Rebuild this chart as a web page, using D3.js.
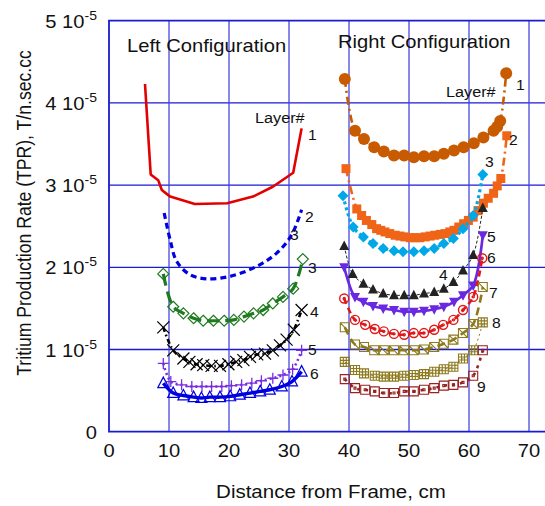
<!DOCTYPE html>
<html lang="en">
<head>
<meta charset="utf-8">
<title>TPR</title>
<script src="https://d3js.org/d3.v7.min.js"></script>
<style>
  body { margin: 0; background: #fff; }
  text { font-family: "Liberation Sans", Arial, sans-serif; fill: #111; }
</style>
</head>
<body>
<div id="chart"></div>
<script>

// values in units of 1e-5 T/n.sec.cc, x in cm
var xTicks = [0, 10, 20, 30, 40, 50, 60, 70];
var yTicks = [0, 1, 2, 3, 4, 5];

// Left configuration
var left1 = [[6.0,4.23],[6.95,3.13],[8.2,3.06],[8.8,2.94],[10.2,2.86],[14.3,2.77],[19.7,2.78],[24.0,2.86],[27.3,2.98],[30.7,3.15],[32.1,3.69]];
var left2 = [[9.2,2.66],[10.2,2.33],[11.3,2.07],[13.5,1.91],[16.3,1.86],[20.2,1.89],[24.6,2.01],[27.9,2.17],[30.4,2.39],[32.1,2.70]];
var left3 = [[9.05,1.92],[10.7,1.52],[12.4,1.44],[14.1,1.38],[15.7,1.35],[17.4,1.35],[19.2,1.35],[20.8,1.36],[22.5,1.40],[24.1,1.44],[25.7,1.48],[27.3,1.56],[29.0,1.64],[30.7,1.74],[32.3,2.10]];
var left4 = [[9.05,1.27],[10.7,0.99],[12.4,0.89],[13.4,0.85],[14.6,0.82],[15.7,0.81],[17.1,0.80],[18.5,0.80],[19.9,0.82],[21.2,0.85],[22.4,0.87],[23.5,0.91],[24.7,0.94],[26.0,0.95],[27.3,0.99],[28.5,1.05],[29.6,1.12],[30.8,1.24],[32.1,1.48]];
var left5 = [[9.05,0.83],[10.3,0.61],[12.1,0.57],[13.8,0.55],[15.5,0.55],[17.1,0.55],[18.8,0.55],[20.4,0.56],[22.1,0.57],[23.8,0.59],[25.4,0.62],[27.3,0.65],[29.0,0.69],[30.6,0.76],[32.1,0.99]];
var left6 = [[9.05,0.59],[10.7,0.47],[12.4,0.44],[14.1,0.42],[15.4,0.41],[16.8,0.42],[18.5,0.42],[20.2,0.43],[21.8,0.45],[23.5,0.47],[25.2,0.49],[26.8,0.51],[28.8,0.55],[30.5,0.61],[32.1,0.73]];

// Right configuration
var right1 = [[39.3,4.29],[41.0,3.66],[42.5,3.56],[44.2,3.46],[45.8,3.41],[47.5,3.36],[49.2,3.36],[50.8,3.34],[52.5,3.35],[54.2,3.35],[55.8,3.38],[57.5,3.42],[59.1,3.46],[60.8,3.51],[62.4,3.58],[64.1,3.66],[64.7,3.71],[65.2,3.78],[66.2,4.36]];
var right2 = [[39.5,3.20],[41.3,2.71],[42.1,2.63],[42.9,2.57],[43.8,2.52],[44.6,2.47],[45.3,2.45],[46.0,2.43],[46.8,2.41],[47.7,2.39],[48.5,2.38],[49.3,2.37],[50.2,2.36],[51.0,2.36],[51.8,2.36],[52.7,2.37],[53.5,2.38],[54.3,2.39],[55.2,2.40],[56.0,2.41],[56.8,2.43],[57.5,2.45],[58.3,2.49],[59.1,2.53],[59.9,2.57],[60.7,2.61],[61.5,2.69],[62.4,2.78],[63.2,2.84],[64.1,2.90],[64.7,2.99],[65.3,3.08],[66.3,3.60]];
var right3 = [[39.0,2.87],[40.7,2.49],[42.4,2.37],[44.0,2.29],[45.7,2.23],[47.5,2.20],[49.0,2.19],[50.8,2.19],[52.5,2.20],[54.2,2.23],[55.8,2.29],[57.4,2.35],[59.0,2.47],[60.7,2.63],[62.3,3.13]];
var right4 = [[39.2,2.26],[40.6,1.92],[42.4,1.80],[44.0,1.73],[45.7,1.68],[47.5,1.66],[49.2,1.66],[50.8,1.66],[52.5,1.68],[54.2,1.70],[55.8,1.74],[57.4,1.82],[59.0,1.96],[60.7,2.15],[62.3,2.72]];
var right5 = [[39.2,2.00],[41.0,1.64],[42.4,1.58],[44.0,1.53],[45.7,1.50],[47.5,1.48],[49.2,1.46],[50.8,1.46],[52.5,1.47],[54.2,1.49],[55.8,1.52],[57.5,1.58],[59.0,1.66],[60.7,1.78],[62.3,2.39]];
var right6 = [[39.2,1.62],[41.0,1.36],[42.7,1.30],[44.3,1.25],[45.8,1.22],[47.5,1.19],[49.2,1.18],[50.8,1.20],[52.5,1.20],[54.2,1.24],[55.7,1.30],[57.4,1.36],[59.0,1.48],[60.7,1.64],[62.2,2.11]];
var right7 = [[39.3,1.27],[41.0,1.06],[42.5,1.03],[44.2,0.99],[45.8,0.99],[47.5,0.99],[49.2,0.99],[50.8,0.99],[52.5,1.00],[54.2,1.03],[55.8,1.07],[57.4,1.12],[59.0,1.20],[60.7,1.31],[62.3,1.76]];
var right8 = [[39.3,0.85],[41.0,0.75],[42.5,0.71],[44.3,0.68],[45.8,0.67],[47.5,0.67],[49.2,0.68],[50.8,0.69],[52.5,0.70],[54.2,0.73],[55.8,0.76],[57.4,0.79],[59.0,0.89],[60.7,0.99],[62.3,1.33]];
var right9 = [[39.3,0.64],[41.0,0.53],[42.7,0.51],[44.3,0.49],[45.8,0.47],[47.5,0.47],[49.2,0.49],[50.8,0.49],[52.5,0.51],[54.2,0.53],[55.8,0.56],[57.4,0.57],[59.0,0.60],[60.7,0.68],[62.3,0.99]];

var width = 545, height = 506;
var svg = d3.select("#chart").append("svg")
  .attr("width", width)
  .attr("height", height);

var x = d3.scaleLinear().domain([0, 73]).range([109, 547]);
var y = d3.scaleLinear().domain([0, 5]).range([431.7, 20.7]);
var gridColor = "#1a1ad4";
var stretch = 1.12;   // the original text is a bit wider than it is tall

function place(px, py) {
  return "translate(" + px + "," + py + ") scale(" + stretch + ",1)";
}

// grid
svg.append("g").selectAll("line.h")
  .data(yTicks.slice(1, 5))
  .enter().append("line")
    .attr("x1", x(0)).attr("x2", width)
    .attr("y1", d => y(d)).attr("y2", d => y(d))
    .attr("stroke", gridColor).attr("stroke-width", 1.3);
svg.append("g").selectAll("line.v")
  .data(xTicks.slice(1))
  .enter().append("line")
    .attr("x1", d => x(d)).attr("x2", d => x(d))
    .attr("y1", y(0)).attr("y2", y(5))
    .attr("stroke", "#3a3ae0").attr("stroke-width", 1.2);
// frame
svg.append("path")
  .attr("d", "M" + width + "," + y(5) + "H" + x(0) + "V" + y(0) + "H" + width)
  .attr("fill", "none").attr("stroke", gridColor).attr("stroke-width", 1.8);

// tick labels
svg.append("g").selectAll("text")
  .data(xTicks)
  .enter().append("text")
    .attr("transform", d => place(x(d), 457))
    .attr("text-anchor", "middle")
    .style("font-size", "18px")
    .text(d => d);

var yl = svg.append("g").selectAll("text")
  .data(yTicks)
  .enter().append("text")
    .attr("transform", d => place(97, y(d) + 7))
    .attr("text-anchor", "end")
    .style("font-size", "18px");
yl.each(function(d) {
  var t = d3.select(this);
  if (d === 0) { t.text("0"); return; }
  t.append("tspan").text(d + " 10");
  t.append("tspan").attr("dy", -8).style("font-size", "12.5px").text("-5");
});

// axis titles
svg.append("text")
  .attr("transform", place(331, 498))
  .attr("text-anchor", "middle")
  .style("font-size", "18.3px")
  .text("Distance from Frame, cm");
svg.append("text")
  .attr("transform", "translate(31,213) scale(" + stretch + ",1) rotate(-90)")
  .attr("text-anchor", "middle")
  .style("font-size", "17.6px")
  .text("Tritium Production Rate (TPR), T/n.sec.cc");

// marker shapes, drawn around (0,0)
function markerPath(type, s) {
  var h = s / 2;
  switch (type) {
    case "square": return "M" + -h + "," + -h + "h" + s + "v" + s + "h" + -s + "Z";
    case "diamond": return "M0," + -h + "L" + h + ",0L0," + h + "L" + -h + ",0Z";
    case "triangle": return "M0," + (-h * 1.1) + "L" + h + "," + (h * 0.8) + "L" + -h + "," + (h * 0.8) + "Z";
    case "triangleDown": return "M0," + (h * 1.1) + "L" + h + "," + (-h * 0.8) + "L" + -h + "," + (-h * 0.8) + "Z";
    case "x": return "M" + -h + "," + -h + "L" + h + "," + h + "M" + h + "," + -h + "L" + -h + "," + h;
    case "plus": return "M" + -h + ",0H" + h + "M0," + -h + "V" + h;
    case "squareDiag": return "M" + -h + "," + -h + "h" + s + "v" + s + "h" + -s + "Z" + "M" + -h + "," + -h + "L" + h + "," + h;
    case "squareGrid":
      var q = s / 3;
      return "M" + -h + "," + -h + "h" + s + "v" + s + "h" + -s + "Z" +
        "M" + (-h + q) + "," + -h + "v" + s + "M" + (-h + 2 * q) + "," + -h + "v" + s +
        "M" + -h + "," + (-h + q) + "h" + s + "M" + -h + "," + (-h + 2 * q) + "h" + s;
    case "squareDot": return "M" + -h + "," + -h + "h" + s + "v" + s + "h" + -s + "Z" + "M-1,-1h2v2h-2Z";
    case "circleDot":
      return "M" + h + ",0A" + h + "," + h + " 0 1,1 " + -h + ",0A" + h + "," + h + " 0 1,1 " + h + ",0Z" +
        "M1,0A1,1 0 1,1 -1,0A1,1 0 1,1 1,0Z";
    case "circle":
      return "M" + h + ",0A" + h + "," + h + " 0 1,1 " + -h + ",0A" + h + "," + h + " 0 1,1 " + h + ",0Z";
  }
  return "";
}

var series = [
  { data: left1, color: "#e30000", w: 2.6, dash: null, marker: null, straight: true },
  { data: left2, color: "#0000e0", w: 3.2, dash: "6,4", marker: null },
  { data: left3, color: "#1f7a1f", w: 3.2, dash: "12,6", marker: "diamond", size: 11, fill: "none", sw: 1.2 },
  { data: left4, color: "#000000", w: 2.6, dash: "5,3,1.5,3", marker: "x", size: 12, fill: "none", sw: 1.2 },
  { data: left5, color: "#7a2ee0", w: 2.6, dash: "2,3", marker: "plus", size: 11, fill: "none", sw: 1.3 },
  { data: left6, color: "#0000e0", w: 3.4, dash: null, marker: "triangle", size: 11, fill: "none", sw: 1.2 },
  { data: right1, color: "#c85a00", w: 2.6, dash: "8,4,2,4", marker: "circle", size: 12, fill: "#c85a00", sw: 0 },
  { data: right2, color: "#f06418", w: 2.6, dash: "8,4,2,4", marker: "square", size: 9, fill: "#f06418", sw: 0 },
  { data: right3, color: "#00a8e8", w: 3.2, dash: "3,3", marker: "diamond", size: 11, fill: "#00a8e8", sw: 0 },
  { data: right4, color: "#222222", w: 1, dash: "3,2", marker: "triangle", size: 10, fill: "#222222", sw: 0 },
  { data: right5, color: "#6a28e0", w: 2.6, dash: null, marker: "triangleDown", size: 10, fill: "#6a28e0", sw: 0 },
  { data: right6, color: "#e01818", w: 2.6, dash: "6,4", marker: "circleDot", size: 9, fill: "none", sw: 1.4 },
  { data: right7, color: "#8c7a1c", w: 2.6, dash: "8,5", marker: "squareDiag", size: 9, fill: "none", sw: 1.1 },
  { data: right8, color: "#8c7a1c", w: 1, dash: "2,3", marker: "squareGrid", size: 9, fill: "none", sw: 1.1 },
  { data: right9, color: "#962222", w: 2.6, dash: "3,5", marker: "squareDot", size: 9, fill: "none", sw: 1.1 }
];

var smooth = d3.line()
  .x(d => x(d[0]))
  .y(d => y(d[1]))
  .curve(d3.curveCatmullRom.alpha(0.5));
var straight = d3.line()
  .x(d => x(d[0]))
  .y(d => y(d[1]));

series.forEach(function(s) {
  var g = svg.append("g");
  g.append("path")
    .datum(s.data)
    .attr("d", s.straight ? straight : smooth)
    .attr("fill", "none")
    .attr("stroke", s.color)
    .attr("stroke-width", s.w)
    .attr("stroke-linejoin", "round")
    .attr("stroke-dasharray", s.dash);
  if (s.marker) {
    g.selectAll("path.m")
      .data(s.data)
      .enter().append("path")
        .attr("class", "m")
        .attr("transform", d => "translate(" + x(d[0]) + "," + y(d[1]) + ")")
        .attr("d", markerPath(s.marker, s.size))
        .attr("fill", s.fill)
        .attr("stroke", s.sw ? s.color : "none")
        .attr("stroke-width", s.sw);
  }
});

// titles and layer labels
var notes = [
  ["Left Configuration", 127, 52, 18],
  ["Right Configuration", 338, 48, 18],
  ["Layer#", 255, 123, 14.5],
  ["Layer#", 446, 97, 14.5],
  ["1", 308, 140, 14], ["2", 305, 222, 14], ["3", 290, 240, 14], ["3", 308, 273, 14],
  ["4", 310, 317, 14], ["5", 308, 355, 14], ["6", 310, 379, 14],
  ["1", 516, 90, 14], ["2", 509, 145, 14], ["3", 485, 167, 14], ["4", 439, 280, 14],
  ["5", 487, 242, 14], ["6", 487, 263, 14], ["7", 489, 298, 14], ["8", 492, 328, 14],
  ["9", 477, 392, 14]
];
svg.append("g").selectAll("text")
  .data(notes)
  .enter().append("text")
    .attr("transform", d => place(d[1], d[2]))
    .style("font-size", d => d[3] + "px")
    .text(d => d[0]);

</script>
</body>
</html>
